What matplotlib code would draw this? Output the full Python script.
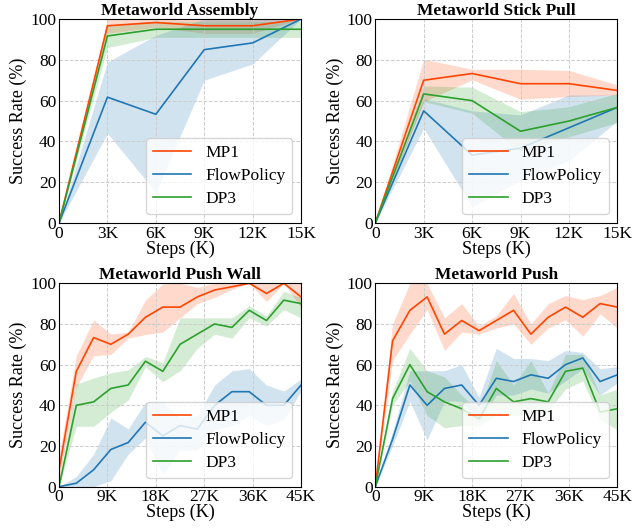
import numpy as np
import matplotlib
matplotlib.use("Agg")
import matplotlib.pyplot as plt

# ----------------------------------------------------------
# Style
# ----------------------------------------------------------

plt.rcParams["font.family"] = ["Liberation Serif", "DejaVu Serif"]
plt.rcParams["font.size"] = 13

MP1_COLOR = "#ff4500"
FLOW_COLOR = "#1f77b4"
DP3_COLOR = "#2ca02c"

# ----------------------------------------------------------
# Data (success rate %, mean / lower / upper)
# ----------------------------------------------------------

short_steps = [0, 3, 6, 9, 12, 15]
short_ticks = [0, 3, 6, 9, 12, 15]
short_tick_labels = ["0", "3K", "6K", "9K", "12K", "15K"]

long_steps = [0, 3.21, 6.43, 9.64, 12.86, 16.07, 19.29, 22.5,
              25.71, 28.93, 32.14, 35.36, 38.57, 41.79, 45]
long_ticks = [0, 9, 18, 27, 36, 45]
long_tick_labels = ["0", "9K", "18K", "27K", "36K", "45K"]

# Metaworld Assembly
asm_mp1 = [0, 96.7, 98.3, 96.7, 96.7, 100]
asm_mp1_lo = [0, 93, 96, 93, 93, 100]
asm_mp1_hi = [0, 100, 100, 100, 100, 100]
asm_flow = [0, 61.7, 53.3, 85, 88.3, 100]
asm_flow_lo = [0, 44, 15, 70, 78, 100]
asm_flow_hi = [0, 79, 92, 100, 100, 100]
asm_dp3 = [0, 91.7, 95, 95, 95, 95]
asm_dp3_lo = [0, 86, 91, 91, 91, 91]
asm_dp3_hi = [0, 97, 99, 99, 99, 99]

# Metaworld Stick Pull
stick_mp1 = [0, 70, 73.3, 68.3, 68.3, 65]
stick_mp1_lo = [0, 59.5, 70.2, 60.7, 62, 62.8]
stick_mp1_hi = [0, 80.3, 75.4, 75.4, 74.8, 67.7]
stick_flow = [0, 55, 33.3, 36.7, 46.7, 56.7]
stick_flow_lo = [0, 46.4, 8, 21, 30.5, 50]
stick_flow_hi = [0, 61, 55, 53, 62.8, 62.8]
stick_dp3 = [0, 63.3, 60, 45, 50, 56.7]
stick_dp3_lo = [0, 59.5, 53.8, 35, 42.3, 49.2]
stick_dp3_hi = [0, 67.2, 66.6, 54.6, 57, 63.6]

# Metaworld Push Wall
wall_mp1 = [8.3, 56.7, 73.3, 70, 75, 83.3, 88.3, 88.3,
            93.3, 96.7, 98.3, 100, 95, 100, 93.3]
wall_mp1_lo = [3, 49, 64.4, 65, 73, 74.8, 76, 83,
               90, 93, 97, 100, 91, 100, 88]
wall_mp1_hi = [15, 64.4, 82, 75, 76, 91.8, 99.7, 100,
               98, 100, 100, 100, 100, 100, 100]
wall_flow = [0, 1.7, 8.3, 18.3, 21.7, 31.7, 25, 30,
             28.3, 40, 46.7, 46.7, 40, 40, 50]
wall_flow_lo = [0, 0, 0, 3, 16, 24, 6, 18,
                18, 28, 30, 35, 30, 33, 47]
wall_flow_hi = [0, 5, 16, 33.8, 28.4, 41.5, 41.5, 34,
                35, 50, 57, 58, 50, 47, 53]
wall_dp3 = [0, 40, 41.7, 48.3, 50, 61.7, 56.7, 70,
            75, 80, 78.3, 86.7, 81.7, 91.7, 90]
wall_dp3_lo = [0, 29.7, 29.7, 36.6, 42.6, 59, 51.6, 57,
               68, 75, 73, 83, 79, 87, 83]
wall_dp3_hi = [0, 50.5, 53.4, 56, 57.4, 64, 61, 83,
               83, 83, 83, 89, 84, 96, 93]

# Metaworld Push
push_mp1 = [0, 71.7, 86.7, 93.3, 75, 81.7, 76.7, 81.7,
            86.7, 75, 83.3, 88.3, 83.3, 90, 88.3]
push_mp1_lo = [0, 62, 75, 87, 67, 76, 75, 78,
               80, 70, 78, 82, 74, 85, 78]
push_mp1_hi = [0, 80, 100, 100, 83, 90, 79, 84,
               95, 80, 90, 94, 92, 94, 98]
push_flow = [0, 23.3, 50, 40, 48.3, 50, 40, 53.3,
             51.7, 55, 53.3, 60, 63.3, 51.7, 55]
push_flow_lo = [0, 20, 42, 23, 42, 42, 32, 45,
                45, 48, 46, 52, 58, 45, 51]
push_flow_hi = [0, 27, 57, 57, 57, 60, 44, 68,
                63, 63, 62, 67, 66, 58, 59]
push_dp3 = [0, 43.3, 60, 46.7, 41.7, 38.3, 33.3, 48.3,
            41.7, 43.3, 41.7, 56.7, 58.3, 36.7, 38.3]
push_dp3_lo = [0, 40, 52, 35, 29, 30, 30, 35,
               35, 36, 37, 48, 52, 33, 28]
push_dp3_hi = [0, 47, 68, 57, 54, 45, 37, 62,
               50, 62, 46, 65, 65, 45, 48]

panels = [
    ("Metaworld Assembly", short_steps, short_ticks, short_tick_labels, 15,
     [(asm_mp1, asm_mp1_lo, asm_mp1_hi),
      (asm_flow, asm_flow_lo, asm_flow_hi),
      (asm_dp3, asm_dp3_lo, asm_dp3_hi)]),
    ("Metaworld Stick Pull", short_steps, short_ticks, short_tick_labels, 15,
     [(stick_mp1, stick_mp1_lo, stick_mp1_hi),
      (stick_flow, stick_flow_lo, stick_flow_hi),
      (stick_dp3, stick_dp3_lo, stick_dp3_hi)]),
    ("Metaworld Push Wall", long_steps, long_ticks, long_tick_labels, 45,
     [(wall_mp1, wall_mp1_lo, wall_mp1_hi),
      (wall_flow, wall_flow_lo, wall_flow_hi),
      (wall_dp3, wall_dp3_lo, wall_dp3_hi)]),
    ("Metaworld Push", long_steps, long_ticks, long_tick_labels, 45,
     [(push_mp1, push_mp1_lo, push_mp1_hi),
      (push_flow, push_flow_lo, push_flow_hi),
      (push_dp3, push_dp3_lo, push_dp3_hi)]),
]

methods = ["MP1", "FlowPolicy", "DP3"]
colors = [MP1_COLOR, FLOW_COLOR, DP3_COLOR]

# ----------------------------------------------------------
# Figure
# ----------------------------------------------------------

fig = plt.figure(figsize=(6.32, 5.29), dpi=100)

positions = [
    [0.0934, 0.5784, 0.383, 0.3856],
    [0.5938, 0.5784, 0.383, 0.3856],
    [0.0934, 0.0800, 0.383, 0.3845],
    [0.5938, 0.0800, 0.383, 0.3845],
]

for pos, (title, steps, ticks, tick_labels, xmax, series) in zip(positions, panels):

    ax = fig.add_axes(pos)

    for (mean, lo, hi), name, color in zip(series, methods, colors):
        ax.fill_between(steps, lo, hi, color=color, alpha=0.2, linewidth=0)
        ax.plot(steps, mean, color=color, linewidth=1.2, label=name)

    ax.set_xlim(0, xmax)
    ax.set_ylim(0, 100)
    ax.set_xticks(ticks)
    ax.set_xticklabels(tick_labels)
    ax.set_yticks([0, 20, 40, 60, 80, 100])
    ax.tick_params(labelsize=12.5, length=0, pad=2)

    ax.grid(True, linestyle="--", color="#cccccc", linewidth=0.7)

    ax.set_title(title, fontsize=12.5, fontweight="bold", pad=1)
    ax.set_xlabel("Steps (K)", fontsize=13, labelpad=-1)
    ax.set_ylabel("Success Rate (%)", fontsize=13, labelpad=2)

    ax.legend(loc="lower right", fontsize=12.5, handlelength=2.2,
              labelspacing=0.4)

plt.savefig("out.png", dpi=100)
plt.close()
